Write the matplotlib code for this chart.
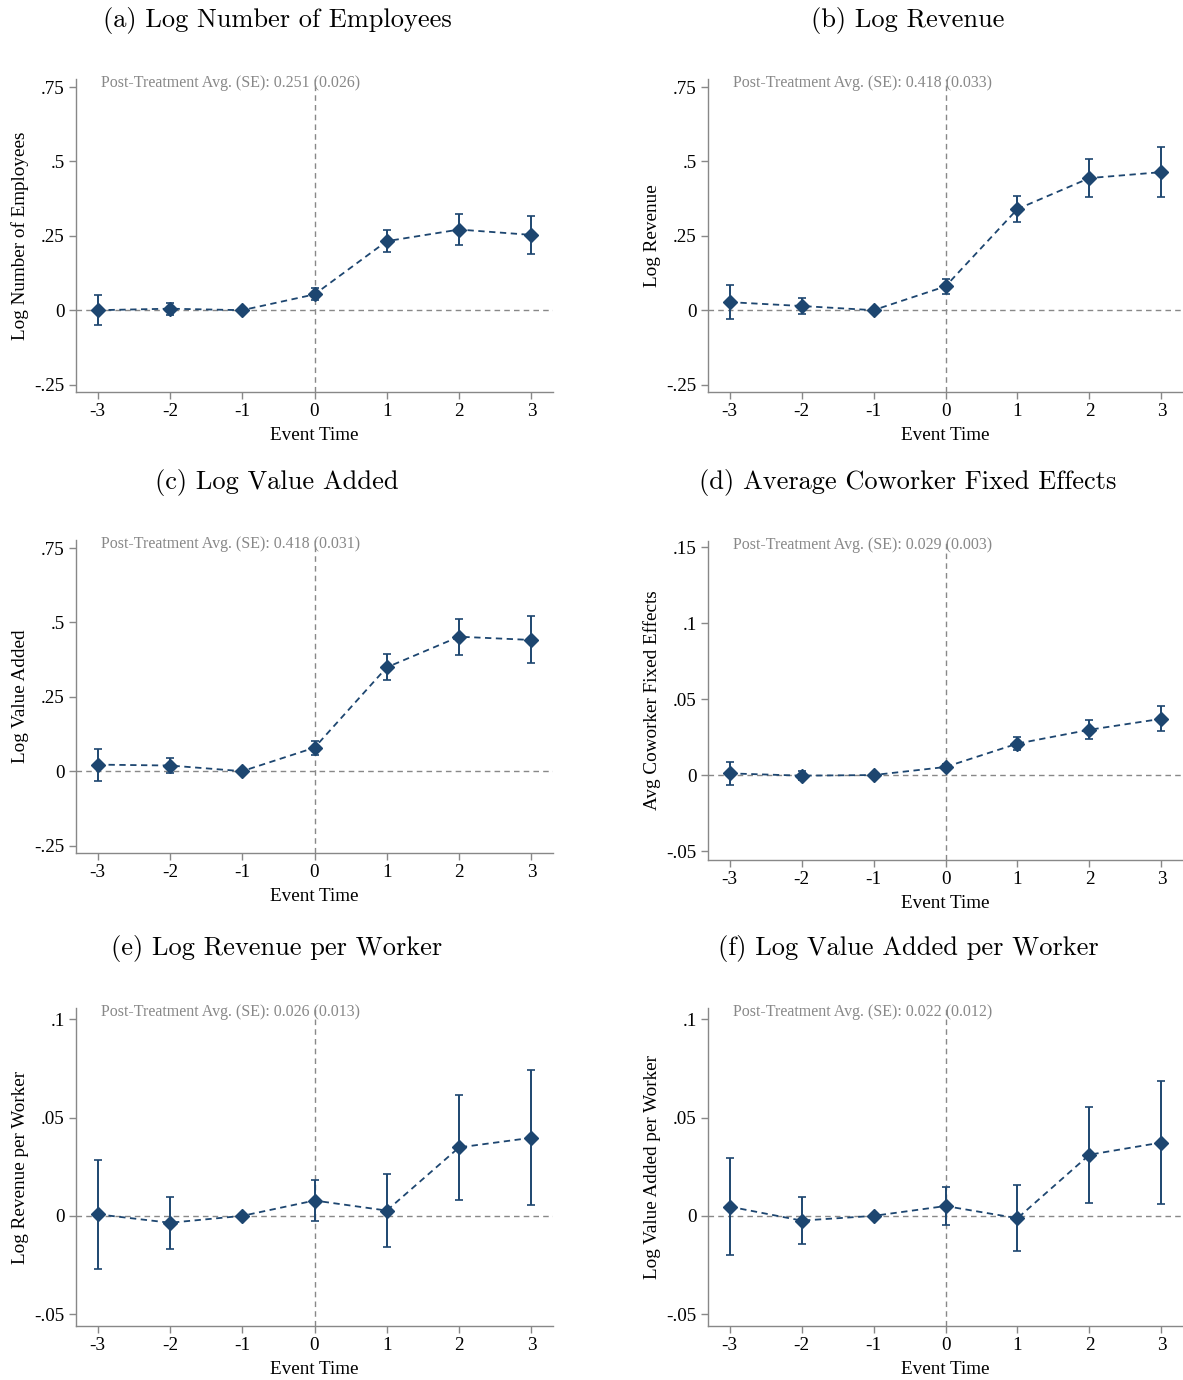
import matplotlib
matplotlib.use("Agg")
import matplotlib.pyplot as plt

# ---- data ----
event_time = [-3, -2, -1, 0, 1, 2, 3]

emp_coef = [0.000, 0.005, 0.0, 0.053, 0.232, 0.271, 0.253]
emp_ci = [0.050, 0.020, 0.0, 0.020, 0.037, 0.052, 0.065]

rev_coef = [0.027, 0.014, 0.0, 0.080, 0.340, 0.444, 0.464]
rev_ci = [0.058, 0.026, 0.0, 0.026, 0.045, 0.065, 0.084]

va_coef = [0.022, 0.019, 0.0, 0.079, 0.349, 0.452, 0.441]
va_ci = [0.054, 0.024, 0.0, 0.024, 0.044, 0.061, 0.079]

cw_coef = [0.0011, -0.0004, 0.0, 0.0053, 0.0207, 0.0298, 0.0370]
cw_ci = [0.0074, 0.0030, 0.0, 0.0018, 0.0044, 0.0062, 0.0082]

rpw_coef = [0.0008, -0.0035, 0.0, 0.0078, 0.0027, 0.0348, 0.0397]
rpw_ci = [0.0276, 0.0131, 0.0, 0.0106, 0.0184, 0.0267, 0.0343]

vapw_coef = [0.0047, -0.0024, 0.0, 0.0050, -0.0012, 0.0311, 0.0373]
vapw_ci = [0.0245, 0.0118, 0.0, 0.0098, 0.0167, 0.0245, 0.0315]

titles = ["(a) Log Number of Employees", "(b) Log Revenue", "(c) Log Value Added",
          "(d) Average Coworker Fixed Effects", "(e) Log Revenue per Worker",
          "(f) Log Value Added per Worker"]
ylabels = ["Log Number of Employees", "Log Revenue", "Log Value Added",
           "Avg Coworker Fixed Effects", "Log Revenue per Worker",
           "Log Value Added per Worker"]
post_avg = ["0.251 (0.026)", "0.418 (0.033)", "0.418 (0.031)",
            "0.029 (0.003)", "0.026 (0.013)", "0.022 (0.012)"]

big_ticks = [-0.25, 0, 0.25, 0.5, 0.75]
big_labels = ["-.25", "0", ".25", ".5", ".75"]
cw_ticks = [-0.05, 0, 0.05, 0.1, 0.15]
cw_labels = ["-.05", "0", ".05", ".1", ".15"]
pw_ticks = [-0.05, 0, 0.05, 0.1]
pw_labels = ["-.05", "0", ".05", ".1"]

series = [(emp_coef, emp_ci), (rev_coef, rev_ci), (va_coef, va_ci),
          (cw_coef, cw_ci), (rpw_coef, rpw_ci), (vapw_coef, vapw_ci)]
yticks = [(big_ticks, big_labels)] * 3 + [(cw_ticks, cw_labels)] + [(pw_ticks, pw_labels)] * 2
ylims = [(-0.275, 0.777)] * 3 + [(-0.0559, 0.154)] + [(-0.056, 0.1057)] * 2

# axes boxes in pixels: left, top, right, bottom
W, H = 1183, 1380
boxes = [(76, 79, 553, 392), (708, 79, 1183, 392),
         (76, 540, 553, 853), (708, 541, 1183, 860),
         (76, 1008, 553, 1326), (708, 1008, 1183, 1326)]
title_pos = [(277, 21), (908, 21), (277, 482), (908, 482), (277, 949), (908, 949)]

navy = "#1d4670"
grey = "#888888"
serif = ["Liberation Serif", "DejaVu Serif"]

fig = plt.figure(figsize=(W / 100, H / 100), dpi=100)

for i in range(6):
    l, t, r, b = boxes[i]
    ax = fig.add_axes([l / W, 1 - b / H, (r - l) / W, (b - t) / H])
    coef, ci = series[i]
    ax.axhline(0, color=grey, lw=1.0, ls=(0, (4, 3)), zorder=1)
    ax.axvline(0, color=grey, lw=1.0, ls=(0, (4, 3)), zorder=1)
    ax.errorbar(event_time, coef, yerr=ci, fmt="none", ecolor=navy, elinewidth=1.4,
                capsize=3.2, capthick=1.2, zorder=2)
    ax.plot(event_time, coef, color=navy, lw=1.3, ls=(0, (3.5, 2.5)), marker="D",
            ms=7, zorder=3)
    ax.set_xlim(-3.3, 3.3)
    ax.set_ylim(*ylims[i])
    ax.set_xticks(event_time)
    ax.set_xticklabels([str(x) for x in event_time], family=serif, fontsize=13.8)
    ax.set_yticks(yticks[i][0])
    ax.set_yticklabels(yticks[i][1], family=serif, fontsize=13.8)
    ax.tick_params(direction="out", length=5, width=1, color=grey, pad=3)
    for s in ["top", "right"]:
        ax.spines[s].set_visible(False)
    for s in ["left", "bottom"]:
        ax.spines[s].set_color(grey)
        ax.spines[s].set_linewidth(1.0)
    ax.set_xlabel("Event Time", family=serif, fontsize=13.8, labelpad=5)
    ax.set_ylabel(ylabels[i], family=serif, fontsize=13.8, labelpad=4)
    ax.text(0.052, 1 - 4 / (b - t), "Post-Treatment Avg. (SE): " + post_avg[i],
            transform=ax.transAxes, ha="left", va="center", family=serif,
            fontsize=11.5, color=grey)
    tx, ty = title_pos[i]
    fig.text(tx / W, 1 - ty / H, titles[i], family="cmr10", fontsize=19,
             ha="center", va="center")

fig.savefig("out.png", dpi=100)
